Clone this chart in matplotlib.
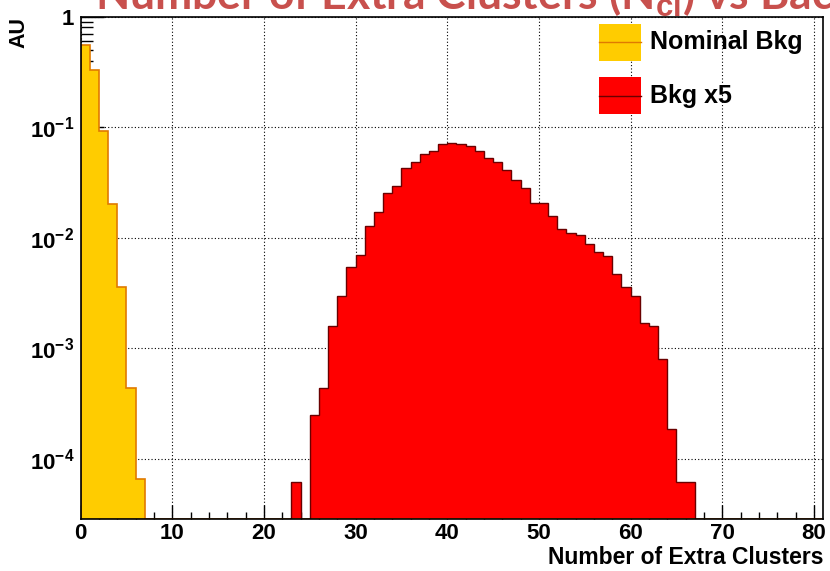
import numpy as np
import matplotlib
matplotlib.use('Agg')
import matplotlib.pyplot as plt
from matplotlib.ticker import FixedLocator, FuncFormatter, MultipleLocator, NullFormatter
from matplotlib.patches import Rectangle
from matplotlib.lines import Line2D

# ---------------- data ----------------
bin_edges = np.arange(0, 82)          # 81 unit-wide bins, 0..81
nominal_start = 0
nominal_values = [0.55, 0.33, 0.093, 0.020, 0.0036, 4.4e-4, 6.5e-5]
bkg5_start = 23
bkg5_values = [6.2e-5, 0.0, 2.5e-4, 4.34e-4, 1.59e-3, 2.97e-3, 5.47e-3, 6.97e-3,
               0.01285, 0.01718, 0.0252, 0.0296, 0.0425, 0.0488, 0.0572, 0.061,
               0.070, 0.072, 0.0705, 0.068, 0.061, 0.053, 0.0488, 0.0413,
               0.0333, 0.028, 0.0205, 0.0205, 0.0157, 0.0119, 0.011, 0.0106,
               0.0088, 0.0074, 0.0068, 0.0047, 0.0036, 0.0030, 0.00168, 0.00159,
               8.0e-4, 1.85e-4, 6.2e-5, 6.2e-5]
series_labels = ["Nominal Bkg", "Bkg x5"]
x_ticks = [0, 10, 20, 30, 40, 50, 60, 70, 80]
y_ticks = [1e-4, 1e-3, 1e-2, 1e-1, 1]
x_title = "Number of Extra Clusters"
y_title = "AU"
slide_title = "Number of Extra Clusters (N$_{cl}$) vs Background"

# ---------------- style ----------------
plt.rcParams['font.family'] = ['Liberation Sans', 'DejaVu Sans']
plt.rcParams['font.weight'] = 'bold'
plt.rcParams['mathtext.fontset'] = 'custom'
plt.rcParams['mathtext.rm'] = 'Liberation Sans:bold'
plt.rcParams['mathtext.bf'] = 'Liberation Sans:bold'
plt.rcParams['mathtext.it'] = 'Liberation Sans:bold'

W, H = 830, 571
fig = plt.figure(figsize=(W / 100, H / 100), dpi=100)
L, R, T, B = 80.6, 823, 16.7, 519
ax = fig.add_axes([L / W, 1 - B / H, (R - L) / W, (B - T) / H])

ymin, ymax = 2.85e-5, 1.0
n_bins = len(bin_edges) - 1
nominal_full = np.zeros(n_bins)
nominal_full[nominal_start:nominal_start + len(nominal_values)] = nominal_values
bkg5_full = np.zeros(n_bins)
bkg5_full[bkg5_start:bkg5_start + len(bkg5_values)] = bkg5_values

yellow, yellow_edge = '#FFCC00', '#E07A00'
red, red_edge = '#FF0000', '#6A0000'

ax.stairs(np.maximum(nominal_full, ymin), bin_edges, baseline=ymin, fill=True,
          color=yellow, zorder=2)
ax.stairs(np.maximum(nominal_full, ymin), bin_edges, baseline=ymin, fill=False,
          color=yellow_edge, lw=1.2, zorder=3)
ax.stairs(np.maximum(bkg5_full, ymin), bin_edges, baseline=ymin, fill=True,
          color=red, zorder=2)
ax.stairs(np.maximum(bkg5_full, ymin), bin_edges, baseline=ymin, fill=False,
          color=red_edge, lw=1.0, zorder=3)

ax.set_yscale('log')
ax.set_xlim(0, 81)
ax.set_ylim(ymin, ymax)

ax.xaxis.set_major_locator(FixedLocator(x_ticks))
ax.xaxis.set_minor_locator(MultipleLocator(2))
ax.yaxis.set_major_locator(FixedLocator(y_ticks))
minor_y = [m * 10.0 ** e for e in range(-5, 0) for m in range(2, 10)]
ax.yaxis.set_minor_locator(FixedLocator(minor_y))
ax.yaxis.set_minor_formatter(NullFormatter())


def yfmt(v, pos):
    e = int(round(np.log10(v)))
    if e == 0:
        return '1'
    return r'$\mathbf{10^{%d}}$' % e


ax.yaxis.set_major_formatter(FuncFormatter(yfmt))
ax.xaxis.set_major_formatter(FuncFormatter(lambda v, p: '%d' % v))

ax.tick_params(which='both', direction='in', top=False, right=False,
               width=1.0, color='black', labelsize=16)
ax.tick_params(axis='x', which='major', length=10, pad=3)
ax.tick_params(axis='x', which='minor', length=5)
ax.tick_params(axis='y', which='major', length=16.5, pad=4.5)
ax.tick_params(axis='y', which='minor', length=8.6)
for lab in ax.get_xticklabels() + ax.get_yticklabels():
    lab.set_fontweight('bold')

ax.grid(True, which='major', color='black', linestyle=(0, (1, 2)), lw=0.8)
ax.set_axisbelow(True)
for s in ax.spines.values():
    s.set_linewidth(1.2)
    s.set_zorder(5)

ax.set_xlabel(x_title, fontsize=16.5, fontweight='bold', loc='right')
ax.xaxis.set_label_coords(1.0, -(558 - B) / (B - T))
ax.xaxis.label.set_va('center')
ax.set_ylabel(y_title, fontsize=15.5, fontweight='bold', loc='top')
ax.yaxis.set_label_coords(-(L - 29) / (R - L), 1.0)

# legend (ROOT style: filled box with line through the middle, no border)
box_x0, box_w, box_h = 599.3, 41.4, 36.7
for i, (lab, fc, ec) in enumerate(zip(series_labels, [yellow, red],
                                      [yellow_edge, red_edge])):
    y_top = 24 + i * 53.3
    fig.patches.append(Rectangle((box_x0 / W, 1 - (y_top + box_h) / H),
                                 box_w / W, box_h / H, transform=fig.transFigure,
                                 facecolor=fc, edgecolor='none', zorder=10))
    ymid = 1 - (y_top + box_h / 2) / H
    fig.lines.append(Line2D([box_x0 / W, (box_x0 + box_w) / W], [ymid, ymid],
                            transform=fig.transFigure, color=ec, lw=1.0, zorder=11))
    fig.text(650 / W, ymid, lab, fontsize=18, fontweight='bold', va='center',
             ha='left', zorder=12)

# slide title, mostly cut off at the top of the picture (only its lower part shows)
fig.text(95 / W, 1 - 9 / H, slide_title, fontsize=32, color='#C8504D',
         family=['Lato', 'DejaVu Sans'], fontweight='bold', va='baseline', ha='left',
         zorder=20)

fig.savefig('out.png', dpi=100)
